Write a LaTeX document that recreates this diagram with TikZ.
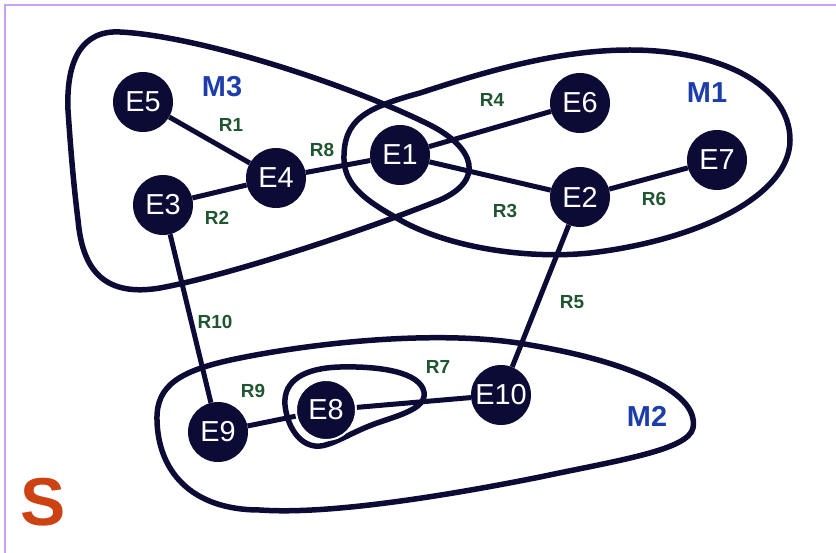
\documentclass[tikz,border=0pt]{standalone}
\usepackage{fontspec}
\setmainfont{Liberation Sans}
\definecolor{navy}{HTML}{0C0B36}
\definecolor{relgreen}{HTML}{1F5530}
\definecolor{modblue}{HTML}{1D3DAA}
\definecolor{setred}{HTML}{CC4212}
\definecolor{framelilac}{HTML}{C8A2F6}
\tikzset{
  entity/.style={circle, fill=navy, text=white, minimum size=60bp, inner sep=0pt,
    font=\fontsize{29}{29}\selectfont},
  link/.style={draw=navy, line width=5bp},
  module/.style={draw=navy, line width=5.5bp, line join=round},
  rel/.style={text=relgreen, font=\bfseries\fontsize{19}{19}\selectfont, inner sep=0pt},
  modlabel/.style={text=modblue, font=\bfseries\fontsize{29}{29}\selectfont, inner sep=0pt},
}
\begin{document}
\begin{tikzpicture}[x=1bp, y=-1bp]
\useasboundingbox (0,0) rectangle (836,553);
\fill[white] (0,0) rectangle (836,553);
\draw[framelilac, line width=2bp] (5,553) -- (5,5) -- (836,5);

% module M3
\draw[module] (68,110) .. controls (66,60) and (82,30) .. (120,32)
  .. controls (200,36) and (350,85) .. (430,125)
  .. controls (475,148) and (485,180) .. (440,200)
  .. controls (360,232) and (230,275) .. (160,288)
  .. controls (100,298) and (82,265) .. (78,220)
  .. controls (73,180) and (70,140) .. (68,110) -- cycle;
% module M1
\draw[module] (344,160) .. controls (343,120) and (365,108) .. (420,93)
  .. controls (490,70) and (560,50) .. (630,50)
  .. controls (720,50) and (790,85) .. (790,140)
  .. controls (790,195) and (700,240) .. (590,253)
  .. controls (520,260) and (440,245) .. (395,217)
  .. controls (365,200) and (345,185) .. (344,160) -- cycle;
% module M2
\draw[module] (157,420) .. controls (156,385) and (180,370) .. (240,358)
  .. controls (330,340) and (450,330) .. (530,345)
  .. controls (620,360) and (700,390) .. (693,428)
  .. controls (688,450) and (620,460) .. (540,477)
  .. controls (450,495) and (330,515) .. (260,510)
  .. controls (190,510) and (158,470) .. (157,420) -- cycle;
% loop around E8
\draw[module] (285,405) .. controls (283,380) and (305,368) .. (340,367)
  .. controls (380,366) and (420,372) .. (424,392)
  .. controls (427,408) and (400,415) .. (380,422)
  .. controls (350,432) and (330,448) .. (315,446)
  .. controls (298,444) and (287,425) .. (285,405) -- cycle;

% entities
\node[entity] (E5) at (143,102) {E5};
\node[entity] (E4) at (276,178) {E4};
\node[entity] (E3) at (163,205) {E3};
\node[entity] (E1) at (400,155) {E1};
\node[entity] (E6) at (580,103) {E6};
\node[entity] (E7) at (717,160) {E7};
\node[entity] (E2) at (580,197) {E2};
\node[entity] (E10) at (501,395) {E10};
\node[entity] (E9) at (218,432) {E9};
\node[entity, draw=white, line width=2bp] (E8) at (326,410) {E8};

% relations
\draw[link] (E5) -- (E4);
\draw[link] (E3) -- (E4);
\draw[link] (E4) -- (E1);
\draw[link] (E1) -- (E6);
\draw[link] (E1) -- (E2);
\draw[link] (E2) -- (E7);
\draw[link] (E2) -- (E10);
\draw[link] (E3) -- (E9);
\draw[link] (E9) -- (E8);
\draw[link] (E8) -- (E10);

% relation labels
\node[rel] (R1) at (231,125) {R1};
\node[rel] (R2) at (217,218) {R2};
\node[rel] (R8) at (322,150) {R8};
\node[rel] (R4) at (492,100) {R4};
\node[rel] (R3) at (505,211) {R3};
\node[rel] (R6) at (654,199) {R6};
\node[rel] (R5) at (572,302) {R5};
\node[rel] (R10) at (215,322) {R10};
\node[rel] (R9) at (253,391) {R9};
\node[rel] (R7) at (438,367) {R7};

% module labels
\node[modlabel] (M3) at (222,87) {M3};
\node[modlabel] (M1) at (707,93) {M1};
\node[modlabel] (M2) at (647,416) {M2};

\node[text=setred, font=\bfseries\fontsize{68}{68}\selectfont, inner sep=0pt] (S) at (43,502) {S};
\end{tikzpicture}
\end{document}
